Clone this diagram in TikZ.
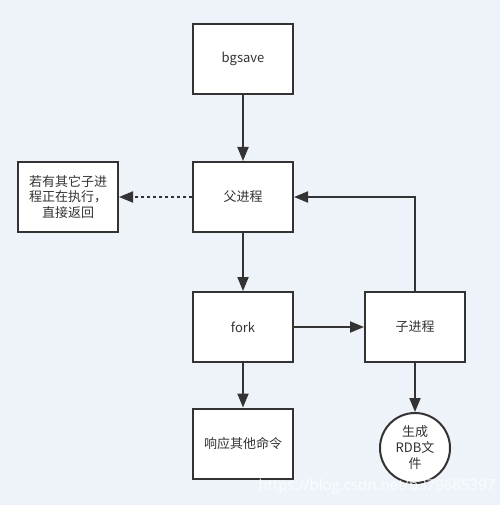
\documentclass[tikz,border=0pt]{standalone}
\usepackage{fontspec}
\setmainfont{Noto Sans CJK SC}
\setsansfont{Open Sans}
\usetikzlibrary{arrows.meta}
\definecolor{bgc}{HTML}{EEF3FA}
\definecolor{ink}{HTML}{333333}
\begin{document}
\begin{tikzpicture}[x=1pt,y=-1pt,
  box/.style={draw=ink,line width=2pt,fill=white,minimum width=100pt,minimum height=70pt,inner sep=0pt,text=ink,font=\fontsize{13}{15.5}\selectfont,align=center},
  conn/.style={draw=ink,line width=2pt,-{Triangle[length=14pt,width=11pt]}}]
\fill[bgc] (0,0) rectangle (500,505);
\useasboundingbox (0,0) rectangle (500,505);
\node[box] (bg) at (243,59) {bgsave};
\node[box] (fu) at (243,197) {父进程};
\node[box] (ru) at (68,197) {若有其它子进\\程正在执行，\\直接返回};
\node[box] (fk) at (243,327) {fork};
\node[box] (zi) at (415,327) {子进程};
\node[box] (xy) at (243,443.5) {响应其他命令};
\node[draw=ink,line width=2pt,fill=white,circle,minimum size=70pt,inner sep=0pt,text=ink,font=\fontsize{13}{16}\selectfont,align=center] (rdb) at (415,448) {生成\\RDB文\\件};
\draw[conn] (bg) -- (fu);
\draw[conn,dash pattern=on 3pt off 3pt] (fu) -- (ru);
\draw[conn] (fu) -- (fk);
\draw[conn] (fk) -- (zi);
\draw[conn] (fk) -- (xy);
\draw[conn] (zi) -- (rdb);
\draw[conn] (zi.north) |- (fu.east);
\node[anchor=west,text=white,opacity=0.8,font=\sffamily\fontsize{15}{15}\selectfont] (wm) at (255,487) {https://blog.csdn.net/b379685397};
\end{tikzpicture}
\end{document}
